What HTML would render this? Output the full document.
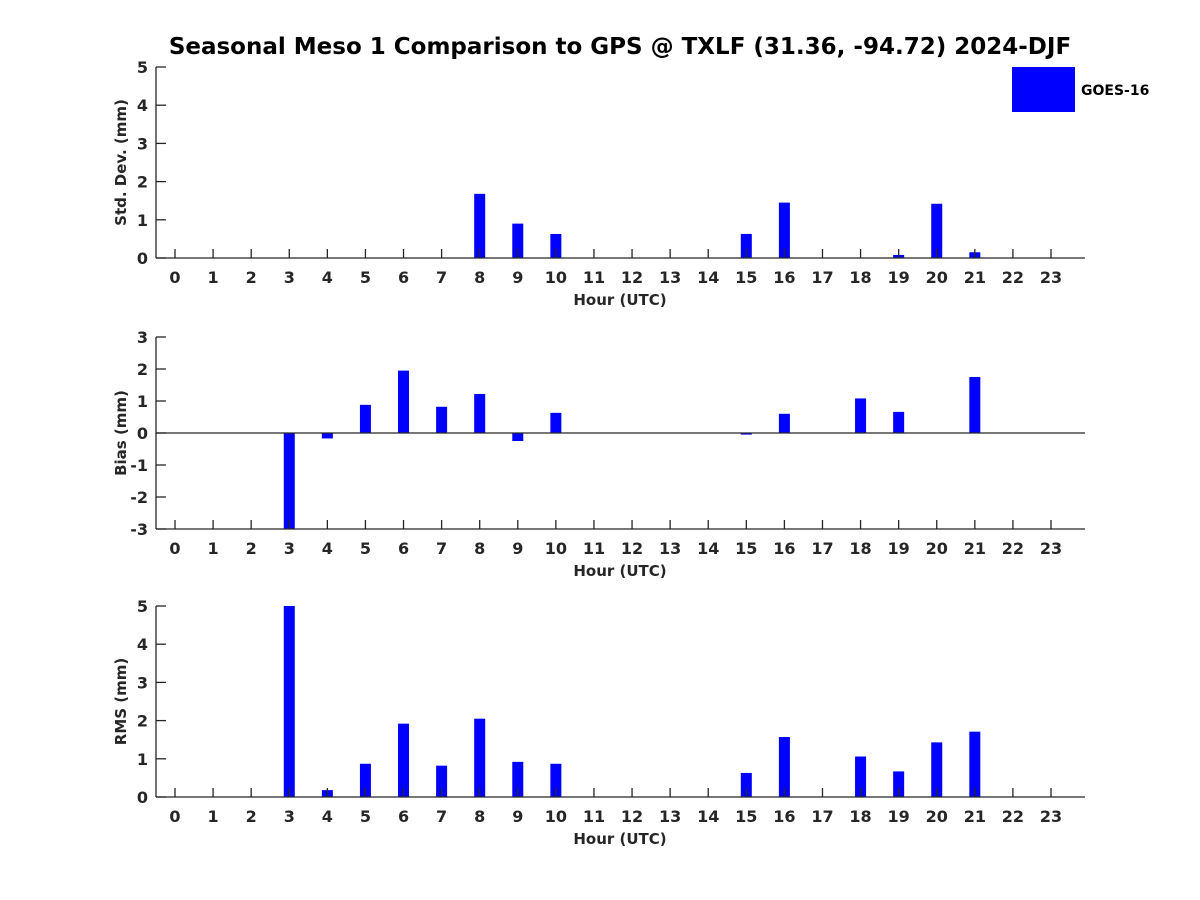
<!DOCTYPE html>
<html><head><meta charset="utf-8"><style>
body{margin:0;background:#fff;}
svg{display:block;font-family:"DejaVu Sans","Liberation Sans",sans-serif;font-weight:bold;}
</style></head><body>
<svg id="chart" width="1200" height="900" viewBox="0 0 1200 900" xmlns="http://www.w3.org/2000/svg">
<rect width="1200" height="900" fill="#fff"/>
<text x="620" y="54" font-size="23" text-anchor="middle" fill="#000">Seasonal Meso 1 Comparison to GPS @ TXLF (31.36, -94.72) 2024-DJF</text>
<rect x="1012" y="67" width="63" height="45" fill="#0000ff"/>
<text x="1081" y="95" font-size="14" fill="#000">GOES-16</text>
</svg>
<script>
const hours = [0,1,2,3,4,5,6,7,8,9,10,11,12,13,14,15,16,17,18,19,20,21,22,23];
const stdValues = [null,null,null,null,null,null,null,null,1.68,0.9,0.63,null,null,null,null,0.63,1.45,null,null,0.08,1.42,0.15,null,null];
const biasValues = [null,null,null,-3.0,-0.17,0.88,1.95,0.82,1.22,-0.25,0.63,null,null,null,null,-0.05,0.6,null,1.08,0.66,null,1.75,null,null];
const rmsValues = [null,null,null,5.0,0.18,0.87,1.92,0.82,2.05,0.92,0.87,null,null,null,null,0.63,1.57,null,1.06,0.67,1.43,1.71,null,null];
const stdTicks = [0,1,2,3,4,5];
const biasTicks = [-3,-2,-1,0,1,2,3];
const rmsTicks = [0,1,2,3,4,5];

const svg = document.getElementById('chart');
const NS = 'http://www.w3.org/2000/svg';
function mk(tag, attrs){const e=document.createElementNS(NS,tag);for(const k in attrs)e.setAttribute(k,attrs[k]);svg.appendChild(e);return e;}
const xLeft=156, xRight=1085;
function xScale(h){return 175 + h*(1051-175)/23;}

function panel(id, top, bottom, ymin, ymax, ticks, values, ylabel){
  const yScale = v => bottom - (v - ymin)/(ymax - ymin)*(bottom - top);
  // bars
  values.forEach((v,i)=>{
    if(v===null) return;
    const y0 = yScale(Math.max(ymin, Math.min(ymax, 0)));
    const y1 = yScale(Math.max(ymin, Math.min(ymax, v)));
    const b = mk('rect',{x:xScale(hours[i])-5.5,y:Math.min(y0,y1),width:11,height:Math.max(1,Math.abs(y1-y0)),fill:'#0000ff'});
    
    
  });
  // axes
  const xa = mk('line',{x1:xLeft,y1:bottom,x2:xRight,y2:bottom,stroke:'#262626','stroke-width':1.3});
  
  
  const ya = mk('line',{x1:xLeft,y1:top,x2:xLeft,y2:bottom,stroke:'#262626','stroke-width':1.3});
  
  
  if(ymin<0){
    const z = mk('line',{x1:xLeft,y1:yScale(0),x2:xRight,y2:yScale(0),stroke:'#262626','stroke-width':1.3});
    
    
  }
  hours.forEach(h=>{
    const x=xScale(h);
    const t = mk('line',{x1:x,y1:bottom,x2:x,y2:bottom-9,stroke:'#262626','stroke-width':1.3});
    
    
    const l = mk('text',{x:x,y:bottom+25,'font-size':16,'text-anchor':'middle',fill:'#262626'});
    l.textContent=h;
    
    
  });
  ticks.forEach(v=>{
    const y=yScale(v);
    const t = mk('line',{x1:xLeft,y1:y,x2:xLeft+10,y2:y,stroke:'#262626','stroke-width':1.3});
    
    
    const l = mk('text',{x:xLeft-8,y:y+6,'font-size':16,'text-anchor':'end',fill:'#262626'});
    l.textContent=v;
    
    
  });
  const xl = mk('text',{x:620,y:bottom+47,'font-size':15,'text-anchor':'middle',fill:'#262626'});
  xl.textContent='Hour (UTC)';
  
  
  const cy=(top+bottom)/2;
  const yl = mk('text',{x:0,y:0,'font-size':15,'text-anchor':'middle',fill:'#262626',transform:'translate(126,'+cy+') rotate(-90)'});
  yl.textContent=ylabel;
  
  
}
panel('std-panel',67,258,0,5,stdTicks,stdValues,'Std. Dev. (mm)');
panel('bias-panel',337,529,-3,3,biasTicks,biasValues,'Bias (mm)');
panel('rms-panel',606,797,0,5,rmsTicks,rmsValues,'RMS (mm)');
</script>
</body></html>
